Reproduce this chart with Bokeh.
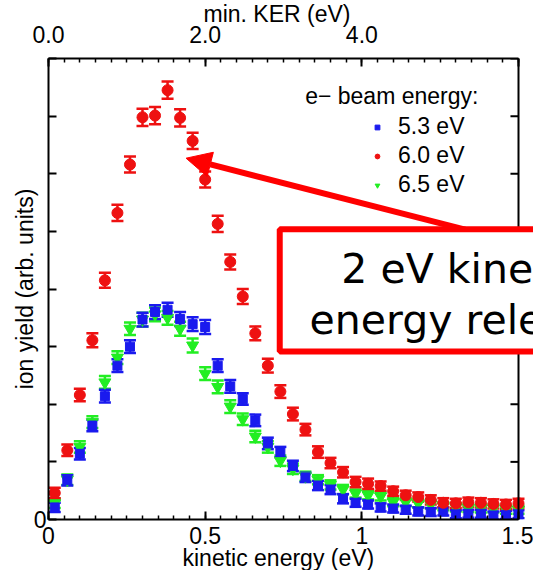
import numpy as np
from bokeh.plotting import figure
from bokeh.models import (Range1d, LinearAxis, FixedTicker, Whisker, TeeHead, ColumnDataSource,
                          Legend, LegendItem, Label, BoxAnnotation, Arrow, NormalHead, Span, Title)
from bokeh.embed import file_html
from bokeh.resources import INLINE

# ---------------- data ----------------
kinetic_energy = [0.02, 0.06, 0.10, 0.14, 0.18, 0.22, 0.26, 0.30, 0.34, 0.38,
                  0.42, 0.46, 0.50, 0.54, 0.58, 0.62, 0.66, 0.70, 0.74, 0.78,
                  0.82, 0.86, 0.90, 0.94, 0.98, 1.02, 1.06, 1.10, 1.14, 1.18,
                  1.22, 1.26, 1.30, 1.34, 1.38, 1.42, 1.46, 1.50]

yield_5p3 = [0.21, 0.68, 1.14, 1.63, 2.14, 2.67, 3.00, 3.47, 3.60, 3.64,
             3.48, 3.39, 3.34, 2.67, 2.31, 2.09, 1.72, 1.32, 1.17, 0.93,
             0.73, 0.59, 0.52, 0.36, 0.29, 0.26, 0.21, 0.19, 0.17, 0.14,
             0.13, 0.14, 0.09, 0.10, 0.10, 0.07, 0.08, 0.09]
yield_6p0 = [0.46, 1.20, 2.16, 3.11, 4.15, 5.32, 6.16, 6.98, 7.01, 7.45,
             6.97, 6.57, 5.90, 5.13, 4.47, 3.87, 3.23, 2.67, 2.22, 1.83,
             1.56, 1.17, 0.98, 0.82, 0.65, 0.62, 0.58, 0.49, 0.42, 0.39,
             0.34, 0.29, 0.28, 0.30, 0.29, 0.27, 0.26, 0.28]
yield_6p5 = [0.28, 0.69, 1.26, 1.69, 2.38, 2.81, 3.31, 3.47, 3.56, 3.50,
             3.31, 3.02, 2.53, 2.30, 1.96, 1.74, 1.44, 1.26, 1.02, 0.88,
             0.75, 0.69, 0.60, 0.52, 0.45, 0.42, 0.40, 0.30, 0.30, 0.28,
             0.26, 0.23, 0.21, 0.20, 0.19, 0.19, 0.17, 0.17]

err_5p3 = [0.08, 0.09, 0.10, 0.10, 0.11, 0.11, 0.11, 0.12, 0.12, 0.12,
           0.12, 0.12, 0.12, 0.11, 0.11, 0.10, 0.10, 0.10, 0.09, 0.09,
           0.08, 0.08, 0.08, 0.08, 0.07, 0.07, 0.07, 0.07, 0.07, 0.07,
           0.07, 0.07, 0.07, 0.07, 0.07, 0.07, 0.07, 0.07]
err_6p0 = [0.09, 0.10, 0.11, 0.12, 0.13, 0.14, 0.14, 0.15, 0.15, 0.15,
           0.15, 0.14, 0.14, 0.14, 0.13, 0.13, 0.12, 0.12, 0.11, 0.11,
           0.10, 0.10, 0.09, 0.09, 0.09, 0.09, 0.08, 0.08, 0.08, 0.08,
           0.08, 0.08, 0.08, 0.08, 0.08, 0.08, 0.08, 0.08]
err_6p5 = [0.08, 0.09, 0.10, 0.10, 0.11, 0.11, 0.11, 0.12, 0.12, 0.12,
           0.12, 0.12, 0.11, 0.11, 0.11, 0.10, 0.10, 0.10, 0.09, 0.09,
           0.08, 0.08, 0.08, 0.08, 0.07, 0.07, 0.07, 0.07, 0.07, 0.07,
           0.07, 0.07, 0.07, 0.07, 0.07, 0.07, 0.07, 0.07]

series_labels = ["5.3 eV", "6.0 eV", "6.5 eV"]
legend_title = "e\u2212 beam energy:"
x_title = "kinetic energy (eV)"
ker_title = "min. KER (eV)"
y_title = "ion yield (arb. units)"
x_ticks = [0, 0.5, 1, 1.5]
x_tick_labels = {0.0: "0", 0.5: "0.5", 1.0: "1", 1.5: "1.5"}
ker_ticks = [0, 2, 4, 6]
ker_tick_labels = {0.0: "0.0", 2.0: "2.0", 4.0: "4.0", 6.0: ""}
y_ticks = [0, 1, 2, 3, 4, 5, 6, 7, 8]
annotation_lines = ["2 eV kinetic", "energy release"]

FONT = "Liberation Sans"
FS = "23px"
X_MAX = 1.5
KER_MAX = 6.0
# frame runs to the right canvas edge, 15 px past the right axis (470 px -> 485 px)
EXT = 485.0 / 470.0

p = figure(width=533, height=570, output_backend="svg", toolbar_location=None,
           x_range=Range1d(0, X_MAX * EXT), y_range=Range1d(0, 8),
           x_axis_location=None, y_axis_location=None,
           min_border_left=48, min_border_right=0, min_border_top=58, min_border_bottom=51)
p.grid.visible = False
p.outline_line_color = None
p.background_fill_color = "white"
p.border_fill_color = "white"
p.extra_x_ranges = {"ker": Range1d(0, KER_MAX * EXT)}


def style_axis(ax):
    ax.axis_line_width = 2
    ax.axis_line_color = "black"
    ax.major_tick_in = 8
    ax.major_tick_out = 0
    ax.minor_tick_in = 4
    ax.minor_tick_out = 0
    ax.major_tick_line_width = 2
    ax.minor_tick_line_width = 1.5
    ax.major_label_text_font = FONT
    ax.major_label_text_font_size = FS
    ax.major_label_text_color = "black"
    ax.axis_label_text_font = FONT
    ax.axis_label_text_font_size = FS
    ax.axis_label_text_font_style = "normal"
    ax.axis_label_text_color = "black"


minor_ke = [round(0.05 * i, 2) for i in range(31)]
minor_ker = [round(0.2 * i, 2) for i in range(31)]

bottom = LinearAxis(ticker=FixedTicker(ticks=x_ticks, minor_ticks=minor_ke), bounds=(0, X_MAX))
style_axis(bottom)
bottom.major_label_overrides = x_tick_labels
bottom.major_label_standoff = 7
p.add_layout(bottom, "below")
p.add_layout(Title(text=x_title, align="left", offset=134, standoff=-7,
                   text_font=FONT, text_font_size=FS, text_font_style="normal",
                   text_color="black"), "below")

top = LinearAxis(x_range_name="ker", ticker=FixedTicker(ticks=ker_ticks, minor_ticks=minor_ker),
                 bounds=(0, KER_MAX))
style_axis(top)
top.major_label_overrides = ker_tick_labels
top.major_label_standoff = 16
p.add_layout(top, "above")
p.add_layout(Title(text=ker_title, align="left", offset=155, standoff=-9,
                   text_font=FONT, text_font_size=FS, text_font_style="normal",
                   text_color="black"), "above")

left = LinearAxis(ticker=FixedTicker(ticks=y_ticks, minor_ticks=[]), axis_label=y_title)
style_axis(left)
left.major_label_overrides = {t: ("0" if t == 0 else "") for t in y_ticks}
left.major_label_standoff = 2
left.axis_label_standoff = -7
p.add_layout(left, "left")

# right-hand frame edge with inward ticks
p.add_layout(Span(location=X_MAX, dimension="height", line_color="black", line_width=2))
tick_len = 8 / 312.0
p.segment(x0=[X_MAX] * len(y_ticks), x1=[X_MAX - tick_len] * len(y_ticks),
          y0=y_ticks, y1=y_ticks, line_color="black", line_width=2)

# ---------------- series ----------------
specs = [
    (yield_6p5, err_6p5, "#22ee22", "inverted_triangle", 12, 2),
    (yield_5p3, err_5p3, "#1a1aee", "square", 9, 0),
    (yield_6p0, err_6p0, "#ee1111", "circle", 11, 1),
]
renderers = [None, None, None]
for ys, es, col, marker, size, idx in specs:
    ya = np.array(ys)
    ea = np.array(es)
    src = ColumnDataSource(dict(x=kinetic_energy, y=ys, upper=ya + ea, lower=ya - ea))
    w = Whisker(source=src, base="x", upper="upper", lower="lower", dimension="height",
                line_color=col, line_width=2.5,
                upper_head=TeeHead(size=12, line_color=col, line_width=2.5),
                lower_head=TeeHead(size=12, line_color=col, line_width=2.5))
    p.add_layout(w)
    r = p.scatter("x", "y", source=src, marker=marker, size=size,
                  fill_color=col, line_color=col)
    renderers[idx] = r

legend = Legend(items=[LegendItem(label=series_labels[i], renderers=[renderers[i]]) for i in range(3)],
                location=(323, 321), orientation="vertical",
                label_text_font=FONT, label_text_font_size=FS, label_text_color="black",
                glyph_width=12, glyph_height=20, label_height=20, label_standoff=15,
                spacing=2, padding=0, margin=0,
                border_line_color=None, background_fill_alpha=0)
p.add_layout(legend)

p.add_layout(Label(x=1.372, y=7.35, text=legend_title, text_align="right",
                   text_baseline="alphabetic", text_font=FONT, text_font_size=FS,
                   text_color="black"))

# ---------------- annotation ----------------
p.add_layout(Arrow(x_start=1.330, y_start=5.03, x_end=0.439, y_end=6.27,
                   line_color="#ff0000", line_width=6,
                   end=NormalHead(size=25, fill_color="#ff0000", line_color="#ff0000", line_width=1)))
p.add_layout(BoxAnnotation(left=0.738, right=2.2, top=5.035, bottom=2.917,
                           fill_color="white", fill_alpha=1.0,
                           line_color="#ff0000", line_width=6, line_alpha=1.0))
p.add_layout(Label(x=1.3205, y=4.34, text=annotation_lines[0], text_align="center",
                   text_baseline="alphabetic", text_font="DejaVu Sans", text_font_size="41px",
                   text_color="black"))
p.add_layout(Label(x=1.3205, y=3.47, text=annotation_lines[1], text_align="center",
                   text_baseline="alphabetic", text_font="DejaVu Sans", text_font_size="41px",
                   text_color="black"))

open("out.html", "w").write(file_html(p, INLINE))
